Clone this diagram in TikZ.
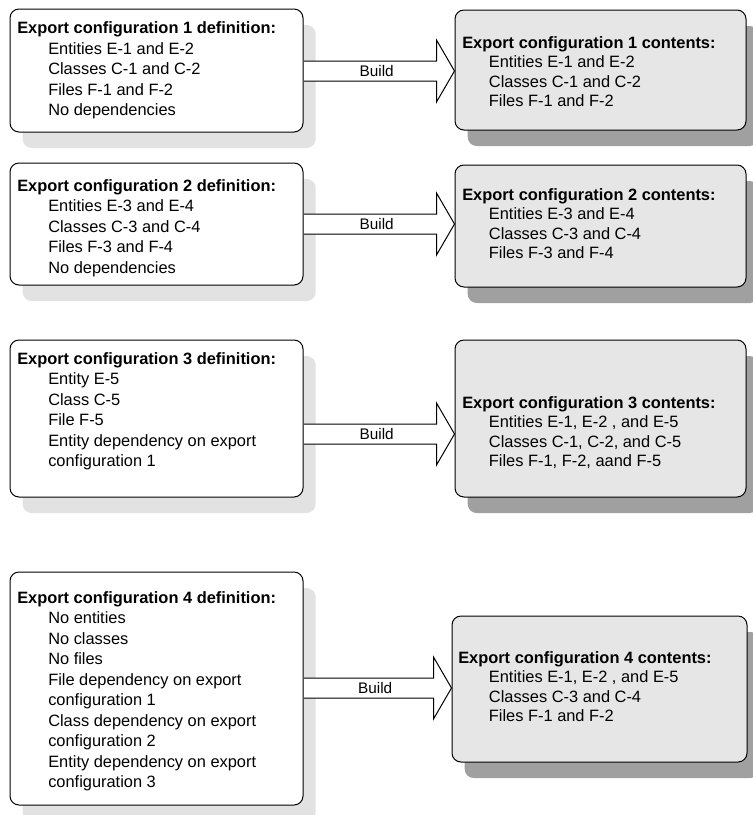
\documentclass[tikz,border=0pt]{standalone}
\usepackage{fontspec}
\setmainfont{Liberation Sans}
\usetikzlibrary{shadows,fit,calc}
\definecolor{lshadow}{RGB}{226,226,226}
\definecolor{rshadow}{RGB}{160,160,160}
\definecolor{rfill}{RGB}{230,230,230}
\newcommand\blockarrow[4]{%
  \draw[barrow] let \p1=(#1.east |- #3), \p2=(#2.west |- #3) in
    (\x1+0.4pt,\y1+7.5pt) -- (\x2-13.5pt,\y1+7.5pt) -- (\x2-13.5pt,\y1+23.25pt)
    -- (\x2,\y1) -- (\x2-13.5pt,\y1-23.25pt) -- (\x2-13.5pt,\y1-7.5pt) -- (\x1+0.4pt,\y1-7.5pt)
    (\x1/2+\x2/2-6.75pt+5pt,\y1) node[blabel] (#4) {Build};}
\begin{document}
\begin{tikzpicture}[x=0.75pt,y=-0.75pt,
  boxbase/.style={draw=black, line width=0.75pt, rounded corners=6.75pt, inner sep=0pt},
  lbox/.style={boxbase, fill=white, drop shadow={shadow xshift=9.5pt, shadow yshift=-12pt, fill=lshadow, opacity=1}},
  rbox/.style={boxbase, fill=rfill, drop shadow={shadow xshift=9.5pt, shadow yshift=-12pt, fill=rshadow, opacity=1}},
  ltxt/.style={anchor=north west, inner sep=0pt, align=left, font=\fontsize{12.3}{15.4}\selectfont, execute at begin node=\strut},
  rtxt/.style={anchor=north west, inner sep=0pt, align=left, font=\fontsize{12.3}{14.6}\selectfont, execute at begin node=\strut},
  barrow/.style={draw=black, line width=0.75pt, fill=white},
  blabel/.style={font=\fontsize{11.5}{13}\selectfont, inner sep=0pt}]
\useasboundingbox (0,0) rectangle (753,815);

% boxes
\node[lbox, fit={(10,9) (303,132)}] (L1) {};
\node[lbox, fit={(10,163) (303,285)}] (L2) {};
\node[lbox, fit={(10,340) (303,497)}] (L3) {};
\node[lbox, fit={(10,572) (303,805)}] (L4) {};
\node[rbox, fit={(455,10) (746,130)}] (R1) {};
\node[rbox, fit={(455,165) (746,287)}] (R2) {};
\node[rbox, fit={(455,340) (746,497)}] (R3) {};
\node[rbox, fit={(452,616) (747,762)}] (R4) {};

% texts
\def\ind{\hspace*{23.25pt}}
\def\rind{\hspace*{20pt}}
\node[ltxt] (LT1) at (17,21.5) {\textbf{Export configuration 1 definition:}\\
  \ind Entities E-1 and E-2\\ \ind Classes C-1 and C-2\\ \ind Files F-1 and F-2\\ \ind No dependencies};
\node[ltxt] (LT2) at (17,179) {\textbf{Export configuration 2 definition:}\\
  \ind Entities E-3 and E-4\\ \ind Classes C-3 and C-4\\ \ind Files F-3 and F-4\\ \ind No dependencies};
\node[ltxt] (LT3) at (17,352) {\textbf{Export configuration 3 definition:}\\
  \ind Entity E-5\\ \ind Class C-5\\ \ind File F-5\\ \ind Entity dependency on export\\ \ind configuration 1};
\node[ltxt] (LT4) at (17,591) {\textbf{Export configuration 4 definition:}\\
  \ind No entities\\ \ind No classes\\ \ind No files\\ \ind File dependency on export\\ \ind configuration 1\\
  \ind Class dependency on export\\ \ind configuration 2\\ \ind Entity dependency on export\\ \ind configuration 3};
\node[rtxt] (RT1) at (462,36) {\textbf{Export configuration 1 contents:}\\
  \rind Entities E-1 and E-2\\ \rind Classes C-1 and C-2\\ \rind Files F-1 and F-2};
\node[rtxt] (RT2) at (462,188) {\textbf{Export configuration 2 contents:}\\
  \rind Entities E-3 and E-4\\ \rind Classes C-3 and C-4\\ \rind Files F-3 and F-4};
\node[rtxt] (RT3) at (462,396) {\textbf{Export configuration 3 contents:}\\
  \rind Entities E-1, E-2 , and E-5\\ \rind Classes C-1, C-2, and C-5\\ \rind Files F-1, F-2, aand F-5};
\node[rtxt] (RT4) at (458,651) {\textbf{Export configuration 4 contents:}\\
  \hspace*{23pt}Entities E-1, E-2 , and E-5\\ \hspace*{23pt}Classes C-3 and C-4\\ \hspace*{23pt}Files F-1 and F-2};

% arrows
\coordinate (A1) at (303,71);
\coordinate (A2) at (303,224);
\coordinate (A3) at (303,434);
\coordinate (A4) at (303,688);
\blockarrow{L1}{R1}{A1}{B1}
\blockarrow{L2}{R2}{A2}{B2}
\blockarrow{L3}{R3}{A3}{B3}
\blockarrow{L4}{R4}{A4}{B4}
\end{tikzpicture}
\end{document}
